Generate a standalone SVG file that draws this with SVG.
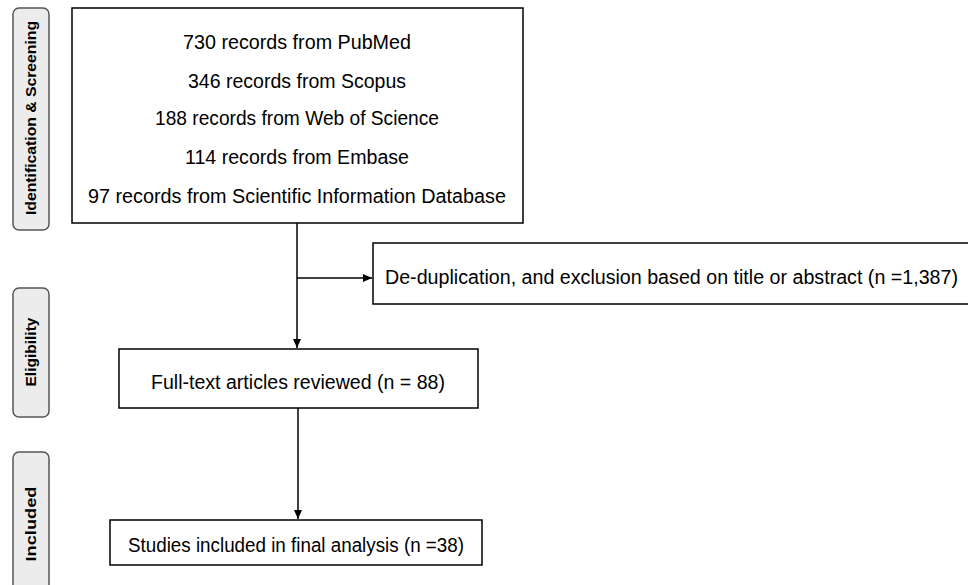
<svg xmlns="http://www.w3.org/2000/svg" width="968" height="585" viewBox="0 0 968 585">
<style>
.box{fill:#fff;stroke:#000;stroke-width:1.5}
.phase{fill:#ececec;stroke:#555;stroke-width:1.5}
.t{font-family:"Liberation Sans",Arial,sans-serif;font-size:20px;fill:#000}
.pt{font-family:"Liberation Sans",Arial,sans-serif;font-size:15px;font-weight:bold;fill:#000}
.c{stroke:#000;stroke-width:1.5;fill:none}
</style>
<defs>
<marker id="ah" markerWidth="10" markerHeight="10" refX="9" refY="5" orient="auto" markerUnits="userSpaceOnUse">
<path d="M0,1 L9,5 L0,9 Z" fill="#000"/>
</marker>
</defs>
<rect width="968" height="585" fill="#fff"/>
<g id="phase-identification">
<rect class="phase" x="13" y="8" width="36" height="222" rx="6"/>
<text class="pt" transform="translate(36,118) rotate(-90)" text-anchor="middle" textLength="194" lengthAdjust="spacingAndGlyphs">Identification &amp; Screening</text>
</g>
<g id="phase-eligibility">
<rect class="phase" x="13" y="288" width="36" height="129" rx="6"/>
<text class="pt" transform="translate(36,352) rotate(-90)" text-anchor="middle" textLength="69" lengthAdjust="spacingAndGlyphs">Eligibility</text>
</g>
<g id="phase-included">
<rect class="phase" x="13" y="452" width="36" height="145" rx="6"/>
<text class="pt" transform="translate(36,524) rotate(-90)" text-anchor="middle" textLength="75" lengthAdjust="spacingAndGlyphs">Included</text>
</g>
<g id="records">
<rect class="box" x="72" y="8" width="451" height="215"/>
<text class="t" x="297" y="49" text-anchor="middle" textLength="228" lengthAdjust="spacingAndGlyphs">730 records from PubMed</text>
<text class="t" x="297" y="88" text-anchor="middle" textLength="218" lengthAdjust="spacingAndGlyphs">346 records from Scopus</text>
<text class="t" x="297" y="125" text-anchor="middle" textLength="284" lengthAdjust="spacingAndGlyphs">188 records from Web of Science</text>
<text class="t" x="297" y="164" text-anchor="middle" textLength="224" lengthAdjust="spacingAndGlyphs">114 records from Embase</text>
<text class="t" x="297" y="203" text-anchor="middle" textLength="418" lengthAdjust="spacingAndGlyphs">97 records from Scientific Information Database</text>
</g>
<g id="excluded">
<rect class="box" x="373" y="243" width="600" height="61"/>
<text class="t" x="385" y="284" textLength="573" lengthAdjust="spacingAndGlyphs">De-duplication, and exclusion based on title  or abstract (n =1,387)</text>
</g>
<g id="fulltext">
<rect class="box" x="119" y="349" width="359" height="59"/>
<text class="t" x="298" y="389" text-anchor="middle" textLength="294" lengthAdjust="spacingAndGlyphs">Full-text articles reviewed (n = 88)</text>
</g>
<g id="included">
<rect class="box" x="110" y="520" width="372" height="45"/>
<text class="t" x="296" y="552" text-anchor="middle" textLength="336" lengthAdjust="spacingAndGlyphs">Studies included in final analysis (n =38)</text>
</g>
<g id="connectors">
<line class="c" x1="297" y1="223" x2="297" y2="348" marker-end="url(#ah)"/>
<line class="c" x1="297" y1="278" x2="372" y2="278" marker-end="url(#ah)"/>
<line class="c" x1="298" y1="408" x2="298" y2="519" marker-end="url(#ah)"/>
</g>
</svg>
